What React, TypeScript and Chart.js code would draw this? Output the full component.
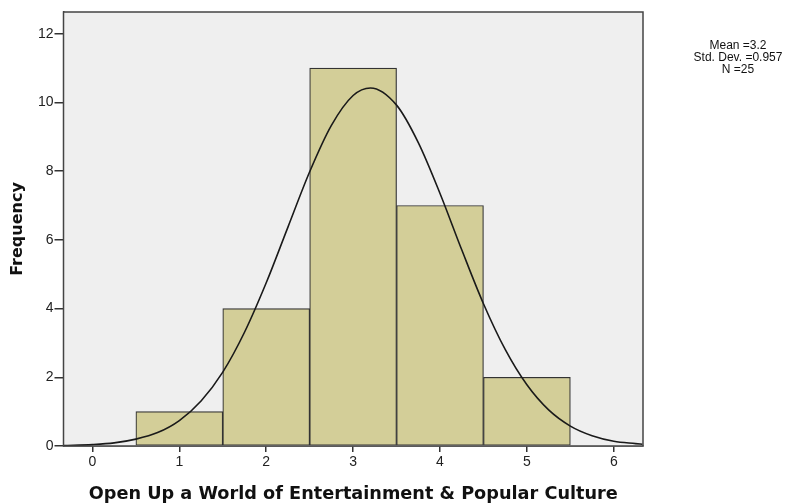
import React, { useEffect, useRef } from "react";
import { Chart, registerables } from "chart.js";

Chart.register(...registerables);

const binCenters = [1, 2, 3, 4, 5];
const frequencies = [1, 4, 11, 7, 2];

const curveX = [-0.33, 0, 0.25, 0.5, 0.75, 1, 1.25, 1.5, 1.75, 2, 2.25, 2.5, 2.75, 3, 3.2, 3.5, 3.75, 4, 4.25, 4.5, 4.75, 5, 5.25, 5.5, 5.75, 6, 6.25, 6.33];
const curveY = [0.01, 0.04, 0.09, 0.2, 0.39, 0.74, 1.31, 2.15, 3.31, 4.75, 6.37, 7.98, 9.33, 10.2, 10.42, 9.92, 8.83, 7.35, 5.71, 4.14, 2.81, 1.78, 1.05, 0.58, 0.3, 0.14, 0.07, 0.05];

const xTicks = [0, 1, 2, 3, 4, 5, 6];
const yTicks = [0, 2, 4, 6, 8, 10, 12];

const statsLines = ["Mean =3.2", "Std. Dev. =0.957", "N =25"];
const xTitle = "Open Up a World of Entertainment & Popular Culture";
const yTitle = "Frequency";

export default function App() {
  const ref = useRef<HTMLCanvasElement>(null);
  useEffect(() => {
    if (!ref.current) return;
    const plotFrame = {
      id: "plotFrame",
      beforeDatasetsDraw(chart: any) {
        const { ctx, chartArea: a } = chart;
        ctx.save();
        ctx.fillStyle = "#efefef";
        ctx.fillRect(a.left, a.top, a.right - a.left, a.bottom - a.top);
        ctx.restore();
      },
      afterDraw(chart: any) {
        const { ctx, chartArea: a } = chart;
        ctx.save();
        ctx.strokeStyle = "#444";
        ctx.lineWidth = 1.5;
        ctx.strokeRect(a.left, a.top, a.right - a.left, a.bottom - a.top);
        ctx.fillStyle = "#111";
        ctx.font = "12px 'Liberation Sans', Arial, sans-serif";
        ctx.textAlign = "center";
        ctx.textBaseline = "alphabetic";
        statsLines.forEach((t, i) => ctx.fillText(t, 738, 49 + i * 12));
        ctx.restore();
      },
    };
    const chart = new Chart(ref.current, {
      type: "bar",
      data: {
        datasets: [
          {
            type: "line",
            data: curveX.map((x, i) => ({ x, y: curveY[i] })),
            borderColor: "#1a1a1a",
            borderWidth: 1.6,
            pointRadius: 0,
            fill: false,
            cubicInterpolationMode: "monotone",
            order: 0,
          } as any,
          {
            type: "bar",
            data: binCenters.map((x, i) => ({ x, y: frequencies[i] })),
            backgroundColor: "#d3ce98",
            borderColor: "#333",
            borderWidth: 1.2,
            borderSkipped: false,
            barPercentage: 1,
            categoryPercentage: 1,
            order: 1,
          } as any,
        ],
      },
      options: {
        animation: false,
        responsive: false,
        layout: { padding: { top: 12, right: 160, left: 0, bottom: 0 } },
        plugins: { legend: { display: false }, tooltip: { enabled: false } },
        scales: {
          x: {
            type: "linear",
            offset: false,
            min: -0.333,
            max: 6.336,
            afterBuildTicks: (s: any) => {
              s.ticks = xTicks.map((v) => ({ value: v }));
            },
            afterFit: (s: any) => {
              s.height = 57;
            },
            grid: { display: true, offset: false, drawOnChartArea: false, drawTicks: true, tickLength: 6, color: "#333", lineWidth: 1.5 },
            border: { display: true, color: "#444", width: 1.5 },
            ticks: { color: "#222", font: { family: "'Liberation Sans', Arial, sans-serif", size: 14 }, padding: 2, maxRotation: 0 },
            title: {
              display: true,
              text: xTitle,
              color: "#111",
              font: { family: "'DejaVu Sans', Verdana, sans-serif", size: 17.7, weight: "bold" },
              padding: { top: 0, bottom: -2.5 },
            },
          },
          y: {
            type: "linear",
            min: 0,
            max: 12.63,
            afterBuildTicks: (s: any) => {
              s.ticks = yTicks.map((v) => ({ value: v }));
            },
            afterFit: (s: any) => {
              s.width = 63.5;
            },
            grid: { display: true, drawOnChartArea: false, drawTicks: true, tickLength: 9, color: "#333", lineWidth: 1.5 },
            border: { display: true, color: "#444", width: 1.5 },
            ticks: { color: "#222", font: { family: "'Liberation Sans', Arial, sans-serif", size: 14 }, padding: 1 },
            title: {
              display: true,
              text: yTitle,
              color: "#111",
              font: { family: "'DejaVu Sans', Verdana, sans-serif", size: 16, weight: "bold" },
              padding: { top: 8, bottom: 0 },
            },
          },
        },
      } as any,
      plugins: [plotFrame],
    });
    return () => chart.destroy();
  }, []);
  return (
    <div style={{ position: "fixed", left: 0, top: 0, width: 803, height: 503, background: "#fff" }}>
      <canvas ref={ref} width={803} height={503} style={{ width: 803, height: 503 }} />
    </div>
  );
}
